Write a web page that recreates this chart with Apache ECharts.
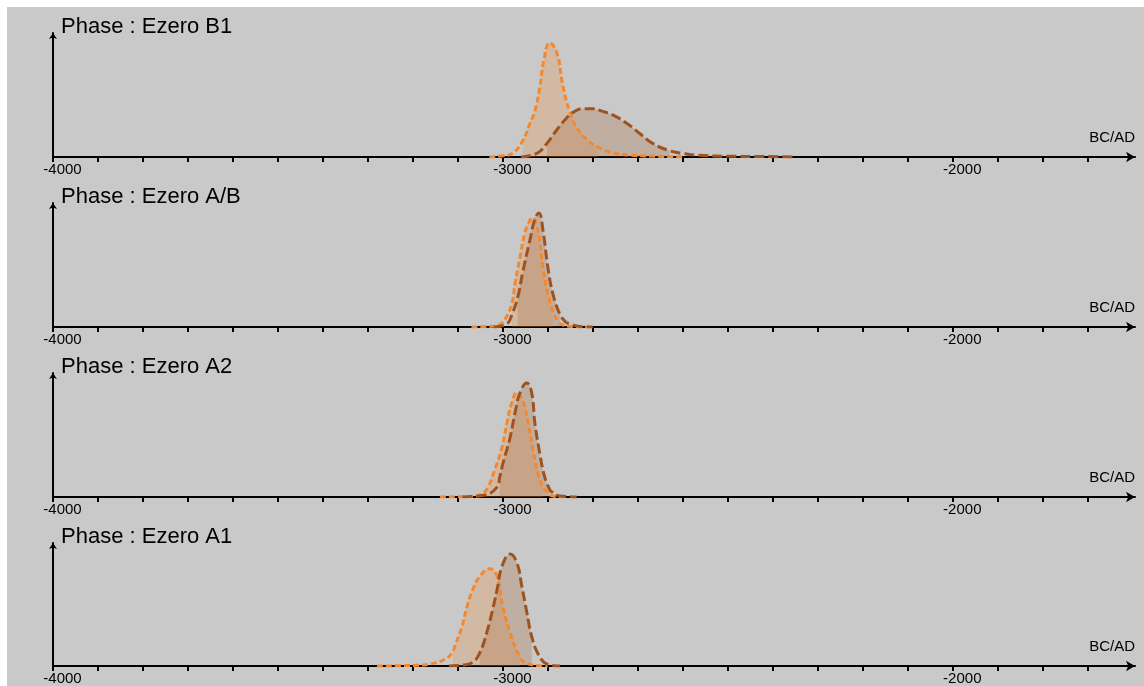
<!DOCTYPE html>
<html><head><meta charset="utf-8">
<script src="https://cdn.jsdelivr.net/npm/echarts@6/dist/echarts.min.js"></script>
<style>
html,body{margin:0;padding:0;background:#fff;}
#bg{position:absolute;left:7px;top:7px;width:1137px;height:679px;background:#c8c9c8;}
#chart{position:absolute;left:0;top:0;width:1144px;height:686px;}
</style></head><body><div id="bg"></div><div id="chart"></div>
<script>
// ---- data ----
const phaseTitles = ['Phase : Ezero B1', 'Phase : Ezero A/B', 'Phase : Ezero A2', 'Phase : Ezero A1'];
const axisName = 'BC/AD';
const xMin = -4000, xMax = -1595;
const tickValues = [-4000,-3900,-3800,-3700,-3600,-3500,-3400,-3300,-3200,-3100,-3000,-2900,-2800,-2700,-2600,-2500,-2400,-2300,-2200,-2100,-2000,-1900,-1800,-1700];
const labelValues = [-4000, -3000, -2000];

// relative probability densities [year, density]
const b1Orange = [[-3030,0],[-3000,0.01],[-2978,0.03],[-2956,0.13],[-2940,0.27],[-2929,0.37],[-2918,0.56],[-2909,0.78],[-2896,0.92],[-2880,0.84],[-2867,0.58],[-2851,0.36],[-2836,0.24],[-2813,0.14],[-2789,0.08],[-2762,0.04],[-2718,0.015],[-2644,0.005],[-2600,0]];
const b1Brown = [[-2960,0],[-2924,0.03],[-2902,0.11],[-2880,0.22],[-2862,0.30],[-2844,0.36],[-2822,0.39],[-2800,0.39],[-2780,0.37],[-2756,0.34],[-2724,0.27],[-2696,0.19],[-2667,0.11],[-2629,0.05],[-2600,0.03],[-2569,0.015],[-2500,0.006],[-2420,0.004],[-2356,0]];
const abOrange = [[-3070,0],[-3030,0.005],[-3007,0.02],[-2994,0.07],[-2980,0.19],[-2973,0.35],[-2962,0.56],[-2951,0.76],[-2940,0.86],[-2933,0.88],[-2925,0.82],[-2918,0.70],[-2911,0.48],[-2900,0.27],[-2889,0.13],[-2878,0.05],[-2867,0.016],[-2840,0.003],[-2810,0]];
const abBrown = [[-3020,0],[-2991,0.025],[-2980,0.10],[-2967,0.24],[-2956,0.44],[-2940,0.70],[-2929,0.87],[-2920,0.92],[-2911,0.78],[-2900,0.48],[-2889,0.27],[-2873,0.10],[-2860,0.04],[-2851,0.025],[-2829,0.004],[-2800,0]];
const a2Orange = [[-3140,0],[-3080,0.004],[-3051,0.016],[-3044,0.03],[-3033,0.08],[-3018,0.22],[-3002,0.40],[-2991,0.60],[-2980,0.76],[-2969,0.84],[-2956,0.78],[-2944,0.60],[-2933,0.38],[-2922,0.19],[-2911,0.08],[-2907,0.06],[-2889,0.008],[-2860,0]];
const a2Brown = [[-3090,0],[-3040,0.016],[-3013,0.08],[-3007,0.16],[-3000,0.27],[-2984,0.48],[-2973,0.68],[-2962,0.84],[-2947,0.92],[-2936,0.84],[-2929,0.60],[-2918,0.35],[-2907,0.16],[-2896,0.06],[-2891,0.04],[-2873,0.008],[-2836,0]];
const a1Orange = [[-3280,0],[-3200,0.005],[-3162,0.016],[-3124,0.065],[-3111,0.12],[-3107,0.16],[-3091,0.32],[-3080,0.48],[-3067,0.62],[-3051,0.73],[-3029,0.79],[-3013,0.73],[-3000,0.48],[-2984,0.27],[-2969,0.12],[-2962,0.08],[-2956,0.04],[-2933,0.008],[-2900,0]];
const a1Brown = [[-3120,0],[-3089,0.008],[-3067,0.03],[-3051,0.11],[-3036,0.27],[-3024,0.44],[-3013,0.62],[-3002,0.81],[-2984,0.91],[-2969,0.84],[-2958,0.65],[-2947,0.44],[-2936,0.24],[-2922,0.10],[-2902,0.016],[-2873,0]];

// highest-density ranges that are shaded
const orangeRanges = [[-2956,-2789],[-2980,-2889],[-3044,-2911],[-3111,-2962]];
const brownRanges  = [[-2902,-2629],[-2967,-2873],[-3007,-2896],[-3051,-2936]];

const orangeData = [b1Orange, abOrange, a2Orange, a1Orange];
const brownData  = [b1Brown, abBrown, a2Brown, a1Brown];

// ---- styles ----
const ORANGE = '#f4882f', ORANGE_FILL = 'rgba(240,135,55,0.35)';
const BROWN = '#a0521e', BROWN_FILL = 'rgba(160,82,30,0.30)';
const FONT = 'Liberation Sans, Arial, sans-serif';
const PANEL_TOP = 33, PANEL_STEP = 170, PANEL_H = 124;
const SMOOTH = 0.45;

const chart = echarts.init(document.getElementById('chart'), null, {renderer: 'canvas'});
const grid = [], xAxis = [], yAxis = [], title = [], series = [];
const inRange = (d, r) => d.filter(p => p[0] >= r[0] && p[0] <= r[1]);

phaseTitles.forEach((t, i) => {
  const top = PANEL_TOP + PANEL_STEP * i;
  grid.push({left: 53, right: 9, top: top, height: PANEL_H, containLabel: false});
  title.push({text: t, left: 61, top: top - 17, padding: 0,
    textStyle: {fontFamily: FONT, fontSize: 22, fontWeight: 'normal', color: '#000'}});
  xAxis.push({type: 'value', gridIndex: i, min: xMin, max: xMax,
    name: axisName, nameLocation: 'end', nameGap: 0,
    nameTextStyle: {fontFamily: FONT, fontSize: 15, color: '#000', align: 'right', verticalAlign: 'bottom', padding: [0, 0, 12, 0]},
    axisLine: {show: true, onZero: false, symbol: ['none', 'arrow'], symbolSize: [8, 9], lineStyle: {color: '#000', width: 2}},
    axisTick: {show: true, customValues: tickValues, length: 5, lineStyle: {color: '#000', width: 2}},
    axisLabel: {show: true, customValues: labelValues, formatter: v => String(v), fontFamily: FONT, fontSize: 15, color: '#000', margin: 5, align: 'center', padding: [0, 0, 0, 19]},
    splitLine: {show: false}});
  yAxis.push({type: 'value', gridIndex: i, min: 0, max: 1,
    axisLine: {show: true, onZero: false, symbol: ['none', 'arrow'], symbolSize: [6, 6], lineStyle: {color: '#000', width: 2}},
    axisTick: {show: false}, axisLabel: {show: false}, splitLine: {show: false}});

  const od = orangeData[i], bd = brownData[i];
  series.push({type: 'line', xAxisIndex: i, yAxisIndex: i, data: inRange(od, orangeRanges[i]), smooth: SMOOTH,
    showSymbol: false, lineStyle: {width: 0}, areaStyle: {color: ORANGE_FILL}, silent: true, z: 2});
  series.push({type: 'line', xAxisIndex: i, yAxisIndex: i, data: inRange(bd, brownRanges[i]), smooth: SMOOTH,
    showSymbol: false, lineStyle: {width: 0}, areaStyle: {color: BROWN_FILL}, silent: true, z: 2});
  series.push({type: 'line', xAxisIndex: i, yAxisIndex: i, data: od, smooth: SMOOTH,
    showSymbol: false, lineStyle: {color: ORANGE, width: 3, type: [6, 3]}, silent: true, z: 3});
  series.push({type: 'line', xAxisIndex: i, yAxisIndex: i, data: bd, smooth: SMOOTH,
    showSymbol: false, lineStyle: {color: BROWN, width: 3, type: [10, 4]}, silent: true, z: 3});
});

chart.setOption({animation: false, backgroundColor: 'transparent', title, grid, xAxis, yAxis, series});
</script></body></html>
